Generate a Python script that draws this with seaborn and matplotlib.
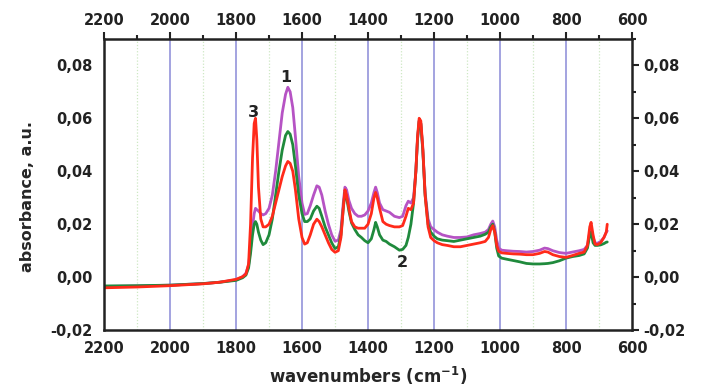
import matplotlib
matplotlib.use("Agg")
import matplotlib.pyplot as plt
from matplotlib.ticker import MultipleLocator, FuncFormatter
import pandas as pd
import seaborn as sns

# wavenumbers (cm-1) shared by the three spectra
wavenumbers = [2200, 2100, 2000, 1900, 1850, 1800, 1780, 1770, 1762, 1756,
               1750, 1745, 1741, 1737, 1732, 1725, 1718, 1710, 1700, 1690,
               1680, 1670, 1660, 1650, 1643, 1636, 1628, 1620, 1610, 1600,
               1592, 1584, 1575, 1565, 1555, 1548, 1540, 1530, 1520, 1510,
               1500, 1490, 1482, 1475, 1470, 1465, 1458, 1450, 1440, 1430,
               1420, 1410, 1400, 1390, 1382, 1377, 1372, 1365, 1355, 1345,
               1335, 1320, 1305, 1295, 1285, 1278, 1270, 1262, 1255, 1250,
               1245, 1240, 1234, 1227, 1218, 1210, 1200, 1190, 1175, 1160,
               1140, 1120, 1100, 1080, 1060, 1045, 1035, 1028, 1022, 1016,
               1010, 1004, 995, 980, 960, 940, 920, 900, 880, 865,
               855, 840, 820, 800, 780, 760, 745, 735, 728, 724,
               718, 712, 705, 695, 685, 678, 675]

spectrum_1 = [-0.0035, -0.0033, -0.0030, -0.0024, -0.0019, -0.0010, 0.0002, 0.0015, 0.0045, 0.011,
              0.019, 0.024, 0.026, 0.0255, 0.025, 0.024, 0.0235, 0.024, 0.026, 0.031,
              0.040, 0.051, 0.062, 0.069, 0.0717, 0.070, 0.064, 0.053, 0.038, 0.028,
              0.0237, 0.024, 0.027, 0.031, 0.0345, 0.034, 0.031, 0.025, 0.020, 0.016,
              0.0136, 0.014, 0.018, 0.028, 0.034, 0.033, 0.029, 0.026, 0.024, 0.023,
              0.023, 0.0235, 0.025, 0.028, 0.032, 0.034, 0.032, 0.028, 0.0255, 0.025,
              0.0245, 0.023, 0.0225, 0.023, 0.027, 0.0287, 0.028, 0.030, 0.040, 0.052,
              0.059, 0.058, 0.048, 0.032, 0.022, 0.019, 0.018, 0.017, 0.016, 0.0155,
              0.015, 0.015, 0.0152, 0.016, 0.0165, 0.017, 0.018, 0.020, 0.0212, 0.019,
              0.014, 0.011, 0.0102, 0.0100, 0.0098, 0.0097, 0.0095, 0.0097, 0.0102, 0.0110,
              0.0108, 0.0100, 0.0093, 0.0090, 0.0095, 0.0100, 0.0105, 0.012, 0.017, 0.018,
              0.015, 0.013, 0.0128, 0.0135, 0.015, 0.017, 0.0175]

spectrum_2 = [-0.0033, -0.0032, -0.0030, -0.0024, -0.0019, -0.0012, -0.0002, 0.0008, 0.0035, 0.009,
              0.016, 0.020, 0.021, 0.020, 0.017, 0.014, 0.0123, 0.013, 0.016, 0.022,
              0.031, 0.040, 0.048, 0.0535, 0.055, 0.054, 0.050, 0.042, 0.031, 0.024,
              0.021, 0.021, 0.022, 0.025, 0.0268, 0.026, 0.023, 0.019, 0.016, 0.013,
              0.0108, 0.0115, 0.016, 0.026, 0.032, 0.030, 0.025, 0.0205, 0.018, 0.016,
              0.0150, 0.0138, 0.013, 0.0145, 0.018, 0.0207, 0.019, 0.016, 0.014, 0.0135,
              0.0125, 0.0115, 0.0102, 0.0105, 0.012, 0.015, 0.020, 0.028, 0.040, 0.052,
              0.059, 0.058, 0.048, 0.031, 0.020, 0.017, 0.0155, 0.0145, 0.014, 0.0138,
              0.0135, 0.014, 0.0145, 0.015, 0.0155, 0.0162, 0.017, 0.019, 0.020, 0.017,
              0.011, 0.008, 0.0072, 0.0068, 0.0063, 0.0058, 0.0052, 0.0050, 0.0050, 0.0051,
              0.0052, 0.0055, 0.0062, 0.0072, 0.0078, 0.0082, 0.0088, 0.011, 0.016, 0.017,
              0.013, 0.012, 0.012, 0.0122, 0.0127, 0.0132, 0.0133]

spectrum_3 = [-0.0040, -0.0037, -0.0032, -0.0025, -0.0019, -0.0008, 0.0002, 0.0012, 0.0050, 0.020,
              0.045, 0.058, 0.060, 0.052, 0.034, 0.022, 0.019, 0.019, 0.020, 0.023,
              0.028, 0.033, 0.038, 0.042, 0.0437, 0.043, 0.040, 0.033, 0.022, 0.015,
              0.0125, 0.013, 0.016, 0.020, 0.0219, 0.021, 0.019, 0.016, 0.013, 0.0105,
              0.0094, 0.010, 0.015, 0.026, 0.033, 0.031, 0.026, 0.021, 0.019, 0.0185,
              0.0185, 0.0185, 0.020, 0.024, 0.030, 0.032, 0.030, 0.026, 0.021, 0.020,
              0.0195, 0.019, 0.019, 0.0195, 0.023, 0.026, 0.0255, 0.028, 0.040, 0.053,
              0.060, 0.059, 0.049, 0.031, 0.019, 0.015, 0.0138, 0.013, 0.0123, 0.012,
              0.0115, 0.0115, 0.012, 0.0125, 0.013, 0.0135, 0.015, 0.018, 0.0195, 0.017,
              0.012, 0.0098, 0.0092, 0.0090, 0.0088, 0.0087, 0.0085, 0.0085, 0.0090, 0.0097,
              0.0095, 0.0085, 0.0078, 0.0075, 0.0082, 0.0090, 0.0095, 0.012, 0.019, 0.0207,
              0.016, 0.0125, 0.0123, 0.013, 0.015, 0.017, 0.020]

series_names = ["1", "2", "3"]
series_colors = ["#b653c4", "#1f8a3c", "#ff2a1a"]
curve_labels = {"1": (1650, 0.0755), "2": (1297, 0.0057), "3": (1748, 0.0622)}

frames = []
for name, values in zip(series_names, [spectrum_1, spectrum_2, spectrum_3]):
    frames.append(pd.DataFrame({"wn": wavenumbers, "abs": values, "sample": name}))
data = pd.concat(frames, ignore_index=True)

sns.set_style("white")
plt.rcParams["font.family"] = ["DejaVu Sans"]
plt.rcParams["font.weight"] = "bold"

fig = plt.figure(figsize=(7.03, 3.88), dpi=100)
ax = fig.add_axes([0.148, 0.149, 0.751, 0.751])

# vertical grid: blue major lines, faint green dotted minor lines
for wn in range(800, 2200, 200):
    ax.axvline(wn, color="#a3a3e0", lw=1.4, zorder=0)
for wn in range(700, 2200, 200):
    ax.axvline(wn, color="#cfe8c4", lw=0.9, ls=(0, (1, 1.5)), zorder=0)

sns.lineplot(data=data, x="wn", y="abs", hue="sample", palette=series_colors,
             sort=False, estimator=None, lw=2.0, legend=False, ax=ax)

for name, (tx, ty) in curve_labels.items():
    ax.text(tx, ty, name, ha="center", va="center", fontsize=11.5, fontweight="bold", color="#222222")

ax.set_xlim(2200, 600)
ax.set_ylim(-0.02, 0.09)
ax.xaxis.set_major_locator(MultipleLocator(200))
ax.xaxis.set_minor_locator(MultipleLocator(100))
ax.yaxis.set_major_locator(MultipleLocator(0.02))
ax.yaxis.set_minor_locator(MultipleLocator(0.01))
ax.yaxis.set_major_formatter(FuncFormatter(lambda v, p: f"{v:.2f}".replace(".", ",").replace("-0,00", "0,00")))
ax.tick_params(which="both", direction="out", top=True, right=True,
               labeltop=True, labelright=True, width=1.5, colors="#222222")
ax.tick_params(which="major", length=5, labelsize=10.5, pad=3)
ax.tick_params(which="minor", length=3)
for lab in ax.get_xticklabels() + ax.get_yticklabels():
    lab.set_fontweight("bold")
for spine in ax.spines.values():
    spine.set_linewidth(1.8)
    spine.set_color("#222222")

ax.set_xlabel("wavenumbers (cm$^{\\mathbf{-1}}$)", fontsize=12, fontweight="bold")
ax.set_ylabel("absorbance, a.u.", fontsize=11.5, fontweight="bold")
ax.xaxis.set_label_coords(0.5, -0.12)
ax.yaxis.set_label_coords(-0.13, 0.46)

fig.savefig("out.png", dpi=100)
